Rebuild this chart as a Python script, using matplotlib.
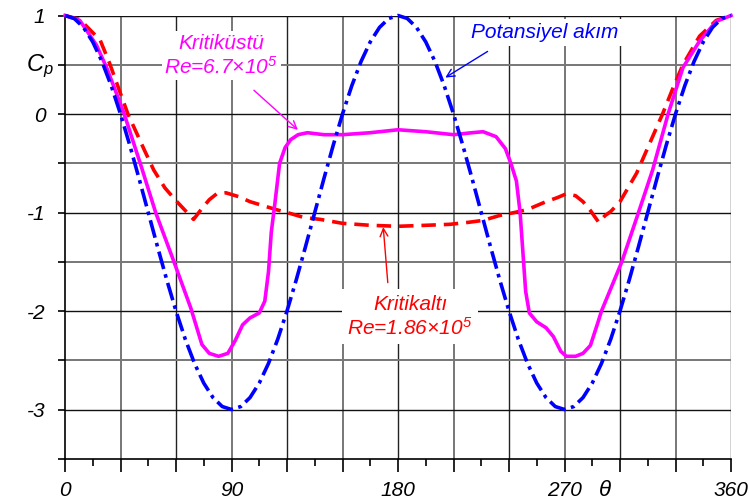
import matplotlib
matplotlib.use("Agg")
import matplotlib.pyplot as plt

plt.rcParams['font.family'] = ['Liberation Sans', 'DejaVu Sans']
plt.rcParams['mathtext.fontset'] = 'custom'
plt.rcParams['mathtext.rm'] = 'Liberation Sans:italic'
plt.rcParams['mathtext.it'] = 'Liberation Sans:italic'
plt.rcParams['mathtext.bf'] = 'Liberation Sans:italic:bold'

# ---- data ----
pot_theta = list(range(0, 361, 5))
pot_cp = [1.0, 0.970, 0.879, 0.732, 0.532, 0.286, 0.0, -0.316, -0.653, -1.0,
          -1.347, -1.684, -2.0, -2.286, -2.532, -2.732, -2.879, -2.970, -3.0,
          -2.970, -2.879, -2.732, -2.532, -2.286, -2.0, -1.684, -1.347, -1.0,
          -0.653, -0.316, 0.0, 0.286, 0.532, 0.732, 0.879, 0.970, 1.0,
          0.970, 0.879, 0.732, 0.532, 0.286, 0.0, -0.316, -0.653, -1.0,
          -1.347, -1.684, -2.0, -2.286, -2.532, -2.732, -2.879, -2.970, -3.0,
          -2.970, -2.879, -2.732, -2.532, -2.286, -2.0, -1.684, -1.347, -1.0,
          -0.653, -0.316, 0.0, 0.286, 0.532, 0.732, 0.879, 0.970, 1.0]

super_theta = [0, 8, 17, 22.5, 27, 32, 41, 49, 58.5, 68, 74, 78, 83, 88, 92, 96,
               100, 105, 108, 110, 111.5, 113.5, 116, 119, 122, 126, 131, 140,
               150, 165, 180, 195, 210, 220, 226, 233, 238, 241, 244, 246,
               247.5, 249, 251, 255, 260, 264, 268, 271, 276, 280, 284, 288,
               290, 301, 310, 317.6, 326, 334, 343, 352, 360]
super_cp = [1.0, 0.95, 0.70, 0.47, 0.25, 0.0, -0.52, -1.0, -1.48, -1.97, -2.34,
            -2.43, -2.46, -2.43, -2.3, -2.14, -2.07, -2.02, -1.9, -1.6, -1.2,
            -0.9, -0.5, -0.34, -0.26, -0.21, -0.19, -0.21, -0.21, -0.19, -0.16,
            -0.18, -0.21, -0.19, -0.18, -0.23, -0.35, -0.5, -0.68, -1.0, -1.4,
            -1.8, -2.02, -2.11, -2.17, -2.26, -2.41, -2.46, -2.46, -2.43,
            -2.35, -2.12, -2.0, -1.5, -1.0, -0.57, 0.0, 0.47, 0.74, 0.94, 1.0]

sub_theta = [0, 8, 19, 24, 34, 43, 48, 54, 60, 65, 69.5, 74, 78, 82, 87, 94,
             100, 107, 114, 120, 129, 138, 150, 165, 180, 195, 208, 218, 226,
             235, 243, 250, 260, 266, 271, 276, 280, 284, 288.5, 292, 295, 300,
             309, 316, 323, 329, 334, 343, 352, 360]
sub_cp = [1.0, 0.96, 0.75, 0.52, 0.0, -0.37, -0.57, -0.75, -0.88, -0.98, -1.07,
          -0.96, -0.87, -0.81, -0.80, -0.84, -0.89, -0.93, -0.97, -1.0, -1.05,
          -1.07, -1.11, -1.13, -1.14, -1.13, -1.12, -1.1, -1.08, -1.03, -1.0,
          -0.97, -0.89, -0.85, -0.81, -0.83, -0.89, -0.98, -1.1, -1.03, -0.99,
          -0.89, -0.6, -0.3, 0.0, 0.28, 0.5, 0.79, 0.95, 1.0]

x_labels = {0: '0', 90: '90', 180: '180', 270: '270', 360: '360'}
y_labels = {1.0: '1', 0.0: '0', -1.0: '-1', -2.0: '-2', -3.0: '-3'}

# ---- figure ----
fig = plt.figure(figsize=(7.49, 5.04), dpi=100)
ax = fig.add_axes([65/749, 1-458.75/504, 666/749, (458.75-15.5)/504])
ax.set_xlim(0, 360)
ax.set_ylim(-3.5, 1)

for xv in range(30, 361, 30):
    ax.axvline(xv, color='#222222' if xv % 60 == 0 else '#777777',
               lw=1.0 if xv % 60 == 0 else 1.4, zorder=1)
for yv in [1, 0.5, 0, -0.5, -1, -1.5, -2, -2.5, -3]:
    ax.axhline(yv, color='#111111' if yv == int(yv) else '#777777',
               lw=1.0 if yv == int(yv) else 1.4, zorder=1)

for s in ['top', 'right']:
    ax.spines[s].set_visible(False)
for s in ['left', 'bottom']:
    ax.spines[s].set_color('black')
    ax.spines[s].set_linewidth(1.2)

ax.set_xticks(list(range(0, 361, 30)))
ax.set_xticks(list(range(15, 361, 30)), minor=True)
ax.set_xticklabels([x_labels.get(v, '') for v in range(0, 361, 30)])
yt = [1, 0.5, 0, -0.5, -1, -1.5, -2, -2.5, -3, -3.5]
ax.set_yticks(yt)
ax.set_yticklabels([y_labels.get(v, '') for v in yt])
ax.tick_params(axis='x', which='major', direction='out', length=9, width=1.2,
               pad=7, labelsize=15)
ax.tick_params(axis='x', which='minor', direction='out', length=5, width=1.2)
ax.tick_params(axis='y', which='major', direction='out', length=5, width=1.2,
               pad=9, labelsize=15)
for lab in ax.get_xticklabels() + ax.get_yticklabels():
    lab.set_fontstyle('italic')

ax.plot(sub_theta, sub_cp, color='#FF0000', lw=2.6, ls=(0, (4, 2.2)),
        zorder=4, clip_on=False)
ax.plot(super_theta, super_cp, color='#FF00FF', lw=2.6, ls='-', zorder=5,
        clip_on=False)
ax.plot(pot_theta, pot_cp, color='#0000FF', lw=2.6, ls=(0, (5, 1.5, 1, 1.5)),
        zorder=6, clip_on=False)

# annotations
ax.annotate('', xy=(127, -0.18), xytext=(101, 0.26),
            arrowprops=dict(arrowstyle='->', color='#FF00FF', lw=1.0,
                            mutation_scale=14), zorder=3)
ax.text(84.5, 0.59, 'Kritiküstü\nRe=6.7$\\times$10$^5$', color='#FF00FF',
        fontsize=15, fontstyle='italic', ha='center', va='center',
        linespacing=1.15, zorder=3,
        bbox=dict(facecolor='white', edgecolor='none', pad=2))

ax.annotate('', xy=(204.3, 0.355), xytext=(229.7, 0.65),
            arrowprops=dict(arrowstyle='->', color='#0000FF', lw=1.0,
                            mutation_scale=14), zorder=3)
ax.text(259.5, 0.83, 'Potansiyel akım', color='#0000FF', fontsize=15,
        fontstyle='italic', ha='center', va='center', zorder=3,
        bbox=dict(facecolor='white', edgecolor='none', pad=3))

ax.annotate('', xy=(171.9, -1.12), xytext=(174.6, -1.74),
            arrowprops=dict(arrowstyle='->', color='#FF0000', lw=1.0,
                            mutation_scale=14), zorder=3)
ax.text(186.5, -2.06, 'Kritikaltı\nRe=1.86$\\times$10$^5$', color='#FF0000',
        fontsize=15, fontstyle='italic', ha='center', va='center',
        linespacing=1.15, zorder=3,
        bbox=dict(facecolor='white', edgecolor='none', pad=4))

fig.text(40/749, 1-66/504, '$C_p$', fontsize=17, ha='center', va='center')
fig.text(605/749, 1-490/504, 'θ', fontsize=16, fontstyle='italic',
         ha='center', va='center')

fig.savefig('out.png', dpi=100)
